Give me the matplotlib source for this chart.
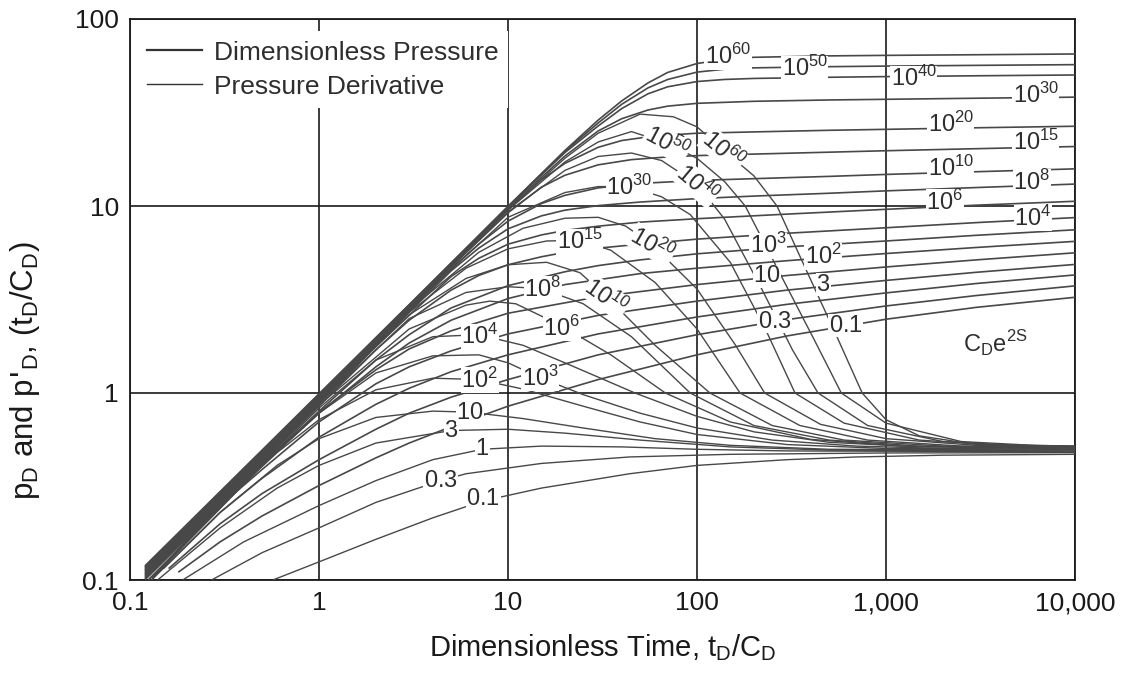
import matplotlib
matplotlib.use('Agg')
import matplotlib.pyplot as plt
from matplotlib.lines import Line2D

plt.rcParams['font.family'] = ['Liberation Sans', 'DejaVu Sans']

# Dimensionless pressure curves, (tD/CD, pD), one per CDe2S value
pd_c0p1 = [(0.18, 0.11), (0.3, 0.16), (0.5, 0.22), (1, 0.32), (2, 0.45), (3, 0.54), (5, 0.66), (10, 0.85),
           (30, 1.18), (100, 1.6), (300, 2.02), (1000, 2.48), (3000, 2.87), (10000, 3.25)]
pd_c0p3 = [(0.16, 0.115), (0.3, 0.2), (0.5, 0.29), (1, 0.44), (2, 0.64), (3, 0.78), (5, 0.95), (10, 1.18),
           (30, 1.6), (100, 2.05), (300, 2.47), (1000, 2.92), (3000, 3.32), (10000, 3.74)]
pd_c1 = [(0.15, 0.115), (0.3, 0.23), (0.5, 0.35), (1, 0.58), (2, 0.87), (3, 1.06), (5, 1.3), (10, 1.6),
         (30, 2.07), (100, 2.55), (300, 2.98), (1000, 3.43), (3000, 3.85), (10000, 4.28)]
pd_c3 = [(0.14, 0.11), (0.3, 0.25), (0.5, 0.39), (1, 0.7), (2, 1.12), (3, 1.38), (5, 1.68), (10, 2.07),
         (30, 2.6), (100, 3.1), (300, 3.55), (1000, 4.0), (3000, 4.42), (10000, 4.87)]
pd_c10 = [(0.135, 0.105), (0.3, 0.26), (0.5, 0.42), (1, 0.79), (2, 1.33), (3, 1.72), (5, 2.15), (10, 2.67),
          (30, 3.27), (100, 3.8), (300, 4.25), (1000, 4.72), (3000, 5.15), (10000, 5.62)]
pd_c1e2 = [(0.13, 0.102), (0.5, 0.41), (1, 0.78), (2, 1.38), (3, 1.85), (5, 2.45), (10, 3.2), (20, 3.8),
           (50, 4.35), (100, 4.65), (300, 5.1), (1000, 5.57), (3000, 6.0), (10000, 6.47)]
pd_c1e3 = [(0.125, 0.1), (0.5, 0.41), (1, 0.8), (2, 1.5), (3, 2.05), (5, 2.85), (10, 3.75), (20, 4.45),
           (30, 4.8), (50, 5.15), (100, 5.55), (300, 6.05), (1000, 6.5), (3000, 6.97), (10000, 7.46)]
pd_c1e4 = [(0.12, 0.101), (1, 0.85), (2, 1.7), (3, 2.45), (5, 3.55), (7, 4.25), (10, 4.85), (15, 5.35),
           (20, 5.65), (30, 5.95), (50, 6.25), (100, 6.65), (300, 7.15), (1000, 7.65), (3000, 8.15), (10000, 8.67)]
pd_c1e6 = [(0.12, 0.103), (1, 0.87), (2, 1.78), (3, 2.6), (5, 4.2), (7, 5.25), (10, 6.25), (15, 7.0),
           (20, 7.4), (30, 7.8), (50, 8.2), (100, 8.55), (300, 9.05), (1000, 9.6), (3000, 10.1), (10000, 10.6)]
pd_c1e8 = [(0.12, 0.105), (1, 0.885), (3, 2.7), (5, 4.5), (7, 5.95), (10, 7.55), (15, 8.85), (20, 9.5),
           (30, 10.05), (50, 10.5), (100, 10.95), (200, 11.3), (500, 11.7), (1000, 12.05), (3000, 12.55), (10000, 13.1)]
pd_c1e10 = [(0.12, 0.107), (1, 0.9), (3, 2.76), (5, 4.62), (7, 6.25), (10, 8.3), (15, 10.3), (20, 11.4),
            (30, 12.5), (50, 13.2), (100, 13.7), (200, 14.0), (500, 14.4), (1000, 14.75), (3000, 15.25), (10000, 15.8)]
pd_c1e15 = [(0.12, 0.109), (1, 0.915), (3, 2.8), (5, 4.72), (10, 9.2), (15, 12.6), (20, 14.6), (30, 16.6),
            (45, 17.7), (70, 18.3), (100, 18.6), (200, 18.95), (500, 19.4), (1000, 19.75), (3000, 20.25), (10000, 20.8)]
pd_c1e20 = [(0.12, 0.111), (1, 0.93), (3, 2.84), (5, 4.78), (10, 9.6), (15, 13.8), (20, 16.9), (30, 20.6),
            (40, 22.4), (60, 23.7), (100, 24.5), (200, 24.9), (500, 25.4), (1000, 25.7), (3000, 26.2), (10000, 26.7)]
pd_c1e30 = [(0.12, 0.113), (1, 0.945), (3, 2.88), (10, 9.8), (15, 14.2), (20, 18.5), (30, 25.2), (40, 29.3),
            (55, 32.6), (70, 34.2), (100, 35.4), (200, 36.3), (500, 36.9), (1000, 37.2), (3000, 37.7), (10000, 38.2)]
pd_c1e40 = [(0.12, 0.115), (1, 0.96), (3, 2.92), (10, 9.9), (20, 19.3), (30, 26.8), (40, 33.2), (55, 39.8),
            (70, 43.4), (100, 46.3), (140, 47.5), (200, 48.1), (500, 48.8), (1000, 49.2), (3000, 49.7), (10000, 50.2)]
pd_c1e50 = [(0.12, 0.117), (1, 0.975), (3, 2.95), (10, 9.93), (20, 19.6), (30, 27.8), (40, 35.0), (55, 42.8),
            (70, 47.5), (100, 52.0), (140, 53.9), (200, 54.8), (500, 55.6), (1000, 56.0), (3000, 56.5), (10000, 57.0)]
pd_c1e60 = [(0.12, 0.119), (0.5, 0.495), (1, 0.99), (3, 2.97), (10, 9.95), (20, 19.8), (30, 28.8), (40, 36.5),
            (55, 45.5), (70, 51.8), (100, 57.8), (140, 60.8), (200, 62.4), (500, 63.5), (1000, 63.9), (3000, 64.4), (10000, 65.0)]

# Pressure derivative curves, (tD/CD, pD')
dv_c0p1 = [(0.57, 0.1), (1, 0.125), (2, 0.165), (4, 0.215), (7.4, 0.265), (15, 0.31), (44, 0.37), (100, 0.41),
           (300, 0.44), (700, 0.455), (2000, 0.465), (10000, 0.47)]
dv_c0p3 = [(0.27, 0.1), (0.5, 0.14), (1, 0.19), (2, 0.26), (4.4, 0.34), (6, 0.37), (15, 0.42), (44, 0.455),
           (150, 0.47), (1000, 0.478), (10000, 0.48)]
dv_c1 = [(0.19, 0.1), (0.4, 0.16), (1, 0.25), (2, 0.34), (4, 0.44), (7.3, 0.5), (15, 0.52), (40, 0.515),
         (100, 0.5), (300, 0.49), (10000, 0.485)]
dv_c3 = [(0.14, 0.1), (0.3, 0.19), (0.6, 0.31), (1, 0.41), (2, 0.54), (5, 0.63), (10, 0.64), (20, 0.61),
         (50, 0.56), (150, 0.515), (500, 0.495), (10000, 0.49)]
dv_c10 = [(0.13, 0.1), (0.3, 0.23), (0.6, 0.41), (1, 0.57), (2, 0.74), (4, 0.8), (6.3, 0.79), (12, 0.73),
          (25, 0.65), (60, 0.57), (150, 0.525), (500, 0.5), (10000, 0.495)]
dv_c1e2 = [(0.13, 0.1), (0.3, 0.25), (0.6, 0.48), (1, 0.72), (2, 1.04), (4, 1.2), (7, 1.18), (12, 1.05),
           (25, 0.85), (50, 0.7), (100, 0.6), (300, 0.53), (1000, 0.505), (10000, 0.5)]
dv_c1e3 = [(0.125, 0.1), (0.5, 0.41), (1, 0.78), (2, 1.28), (4, 1.58), (7, 1.6), (10, 1.45), (15, 1.2),
           (25, 0.98), (50, 0.78), (100, 0.65), (250, 0.56), (700, 0.52), (2000, 0.505), (10000, 0.5)]
dv_c1e4 = [(0.12, 0.1), (1, 0.83), (2, 1.5), (4, 2.0), (7, 2.05), (12, 1.8), (20, 1.45), (47, 1.0),
           (100, 0.75), (200, 0.62), (500, 0.545), (1500, 0.515), (10000, 0.505)]
dv_c1e6 = [(0.12, 0.102), (1, 0.86), (3, 2.2), (6, 2.95), (8, 3.1), (11, 3.0), (19, 2.3), (35, 1.6),
           (68, 1.0), (150, 0.7), (400, 0.565), (1200, 0.52), (10000, 0.505)]
dv_c1e8 = [(0.12, 0.104), (1, 0.88), (3, 2.5), (6, 3.45), (10, 3.7), (15, 3.62), (25, 3.0), (45, 2.0),
           (92, 1.0), (200, 0.67), (500, 0.56), (1500, 0.52), (10000, 0.51)]
dv_c1e10 = [(0.12, 0.106), (1, 0.895), (3, 2.62), (6, 4.1), (10, 4.85), (16, 5.0), (24, 4.4), (33, 3.3),
            (60, 1.8), (117, 1.0), (250, 0.67), (600, 0.56), (2000, 0.52), (10000, 0.51)]
dv_c1e15 = [(0.12, 0.108), (1, 0.91), (3, 2.7), (6, 4.65), (10, 5.9), (16, 6.5), (24, 6.55), (35, 5.8),
            (60, 3.9), (100, 2.2), (169, 1.0), (350, 0.67), (800, 0.56), (2500, 0.52), (10000, 0.512)]
dv_c1e20 = [(0.12, 0.11), (1, 0.925), (3, 2.78), (7, 5.65), (12, 7.6), (20, 8.6), (30, 8.7), (42, 7.8),
            (58, 6.2), (100, 3.6), (160, 1.8), (228, 1.0), (450, 0.68), (1000, 0.57), (3000, 0.525), (10000, 0.515)]
dv_c1e30 = [(0.12, 0.112), (1, 0.94), (3, 2.84), (10, 8.7), (20, 11.8), (30, 12.7), (44, 12.7), (65, 11.2),
            (92, 9.0), (150, 5.0), (230, 2.2), (330, 1.0), (600, 0.69), (1500, 0.56), (4000, 0.525), (10000, 0.515)]
dv_c1e40 = [(0.12, 0.114), (1, 0.955), (3, 2.88), (10, 9.3), (20, 15.5), (30, 18.4), (45, 19.2), (65, 17.5),
            (100, 13.1), (140, 8.5), (220, 3.6), (320, 1.7), (437, 1.0), (800, 0.67), (2000, 0.55), (5000, 0.525),
            (10000, 0.518)]
dv_c1e50 = [(0.12, 0.116), (1, 0.97), (3, 2.92), (10, 9.5), (20, 17.2), (30, 22.0), (45, 25.0), (69, 21.7),
            (100, 18.0), (140, 13.5), (180, 10.0), (280, 4.2), (420, 1.9), (580, 1.0), (1000, 0.69), (2500, 0.55),
            (6000, 0.525), (10000, 0.52)]
dv_c1e60 = [(0.12, 0.118), (1, 0.985), (3, 2.95), (10, 9.6), (20, 18.0), (30, 24.5), (50, 31.0), (75, 30.0),
            (100, 26.5), (137, 20.0), (200, 14.5), (265, 10.0), (380, 4.5), (550, 2.0), (748, 1.0), (1000, 0.72),
            (1500, 0.59), (3000, 0.53), (10000, 0.52)]

pd_curves = [pd_c0p1, pd_c0p3, pd_c1, pd_c3, pd_c10, pd_c1e2, pd_c1e3, pd_c1e4, pd_c1e6, pd_c1e8,
             pd_c1e10, pd_c1e15, pd_c1e20, pd_c1e30, pd_c1e40, pd_c1e50, pd_c1e60]
dv_curves = [dv_c0p1, dv_c0p3, dv_c1, dv_c3, dv_c10, dv_c1e2, dv_c1e3, dv_c1e4, dv_c1e6, dv_c1e8,
             dv_c1e10, dv_c1e15, dv_c1e20, dv_c1e30, dv_c1e40, dv_c1e50, dv_c1e60]

# CDe2S labels on the derivative humps
dv_labels = ['0.1', '0.3', '1', '3', '10', '10^2', '10^3', '10^4', '10^6', '10^8', '10^{10}', '10^{15}',
             '10^{20}', '10^{30}', '10^{40}', '10^{50}', '10^{60}']
dv_label_x = [7.4, 4.4, 7.3, 5.0, 6.3, 7.1, 14.8, 7.1, 19.3, 15.3, 33, 24, 58, 44, 100, 69, 137]
dv_label_y = [0.27, 0.34, 0.5, 0.63, 0.78, 1.17, 1.2, 2.0, 2.23, 3.6, 3.25, 6.45, 6.2, 12.6, 13.1, 21.7, 19.8]
dv_label_rot = [0, 0, 0, 0, 0, 0, 0, 0, 0, 0, -35, 0, -30, 0, -40, -28, -40]

# CDe2S labels on the pressure curves
pd_labels = ['0.1', '0.3', '3', '10', '10^2', '10^3', '10^4', '10^6', '10^8', '10^{10}', '10^{15}',
             '10^{20}', '10^{30}', '10^{40}', '10^{50}', '10^{60}']
pd_label_x = [610, 258, 465, 235, 465, 238, 6000, 2050, 5900, 2200, 6200, 2200, 6200, 1400, 372, 146]
pd_label_y = [2.29, 2.4, 3.8, 4.2, 5.37, 6.13, 8.6, 10.5, 13.4, 16, 22, 27.5, 39.1, 47.9, 54.2, 63]

x_ticks = [0.1, 1, 10, 100, 1000, 10000]
x_tick_labels = ['0.1', '1', '10', '100', '1,000', '10,000']
y_ticks = [0.1, 1, 10, 100]
y_tick_labels = ['0.1', '1', '10', '100']

curve_color = '#484848'
ink = '#1a1a1a'

fig = plt.figure(figsize=(11.26, 6.77), dpi=100)
ax = fig.add_axes([130 / 1126, 1 - 580 / 677, 945 / 1126, 561 / 677])
ax.set_xscale('log')
ax.set_yscale('log')
ax.set_xlim(0.1, 10000)
ax.set_ylim(0.1, 100)

for pts in pd_curves:
    xs, ys = zip(*pts)
    ax.plot(xs, ys, color=curve_color, lw=1.2, solid_capstyle='butt', zorder=3)
for pts in dv_curves:
    xs, ys = zip(*pts)
    ax.plot(xs, ys, color=curve_color, lw=1.0, solid_capstyle='butt', zorder=3)

box = dict(facecolor='white', edgecolor='none', pad=0.3)
for txt, x, y, r in zip(dv_labels, dv_label_x, dv_label_y, dv_label_rot):
    ax.text(x, y, r'$\mathregular{%s}$' % txt, fontsize=17, color='#2e2e2e', ha='center', va='center',
            rotation=r, rotation_mode='anchor', bbox=box, zorder=5)
for txt, x, y in zip(pd_labels, pd_label_x, pd_label_y):
    ax.text(x, y, r'$\mathregular{%s}$' % txt, fontsize=17, color='#2e2e2e', ha='center', va='center',
            bbox=box, zorder=5)

ax.text(3775, 1.84, r'C$_\mathregular{D}$e$^\mathregular{2S}$', fontsize=17, color='#2e2e2e',
        ha='center', va='center', zorder=5)

# grid and frame
ax.set_xticks(x_ticks)
ax.set_xticklabels(x_tick_labels)
ax.set_yticks(y_ticks)
ax.set_yticklabels(y_tick_labels)
ax.minorticks_off()
ax.tick_params(length=0, labelsize=19, pad=8, colors=ink)
ax.grid(True, which='major', color=ink, lw=1.2, zorder=1)
for sp in ax.spines.values():
    sp.set_color(ink)
    sp.set_linewidth(1.3)

ax.set_xlabel(r'Dimensionless Time, t$_\mathregular{D}$/C$_\mathregular{D}$', fontsize=21, color=ink, labelpad=12)
ax.set_ylabel(r"p$_\mathregular{D}$ and p$'_\mathregular{D}$, (t$_\mathregular{D}$/C$_\mathregular{D}$)",
              fontsize=22.5, color=ink)
ax.yaxis.set_label_coords(-0.093, 0.374)

handles = [Line2D([], [], color='#333333', lw=1.6), Line2D([], [], color='#333333', lw=1.0)]
leg = ax.legend(handles, ['Dimensionless Pressure', 'Pressure Derivative'], loc='upper left',
                bbox_to_anchor=(0.008, 0.978), fontsize=19, frameon=True, fancybox=False,
                framealpha=1, edgecolor='none', facecolor='white', handlelength=2.1,
                handletextpad=0.45, labelspacing=0.38, borderpad=0.35, borderaxespad=0)
leg.set_zorder(6)
for t in leg.get_texts():
    t.set_color('#2e2e2e')

fig.savefig('out.png', dpi=100)
